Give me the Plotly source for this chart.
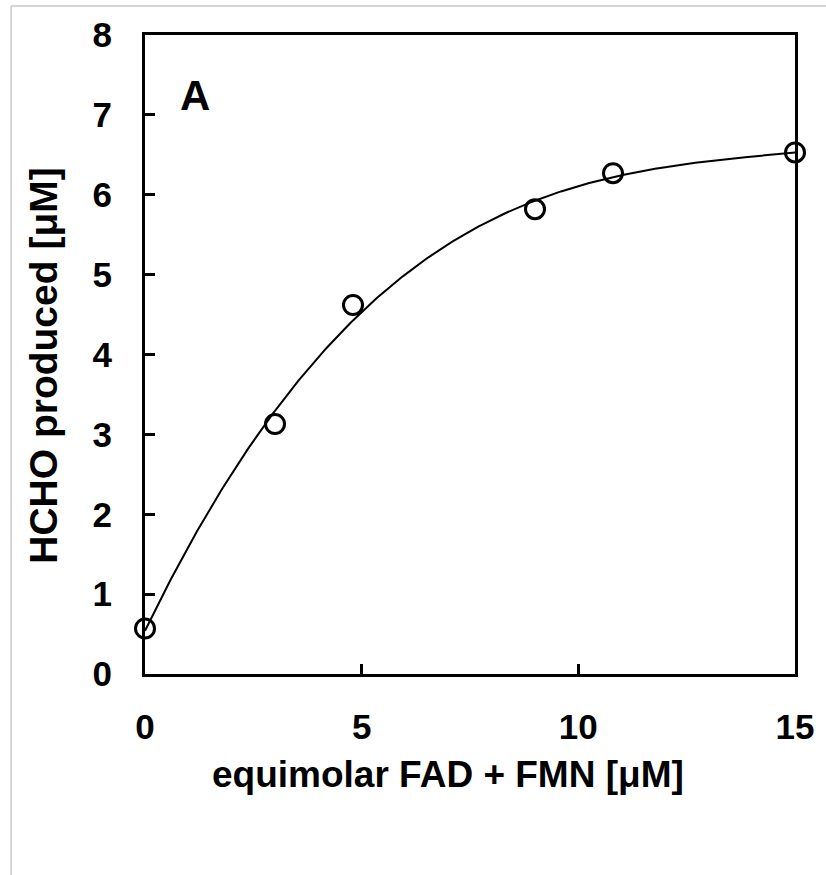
import numpy as np
import plotly.graph_objects as go

# Data
fad_fmn_uM = [0, 3, 4.8, 9, 10.8, 15]
hcho_uM = [0.57, 3.13, 4.62, 5.82, 6.27, 6.53]
x_ticks = [0, 5, 10, 15]
y_ticks = [0, 1, 2, 3, 4, 5, 6, 7, 8]

# 3rd-order polynomial trendline fitted to the data
coef = np.polyfit(fad_fmn_uM, hcho_uM, 3)
xf = np.linspace(0, 15, 301)
yf = np.polyval(coef, xf)

FONT = "Liberation Sans, Arial, sans-serif"

fig = go.Figure()
fig.add_trace(go.Scatter(x=xf, y=yf, mode="lines",
                         line=dict(color="black", width=2),
                         hoverinfo="skip", showlegend=False))
fig.add_trace(go.Scatter(x=fad_fmn_uM, y=hcho_uM, mode="markers",
                         marker=dict(symbol="circle-open", size=19,
                                     color="black", line=dict(width=3, color="black")),
                         cliponaxis=False, showlegend=False))

fig.update_layout(
    width=826, height=875,
    margin=dict(l=145, r=26, t=35, b=201),
    paper_bgcolor="white", plot_bgcolor="white",
    font=dict(family=FONT, color="black"),
    xaxis=dict(range=[0, 15], tickvals=x_ticks, ticks="inside", ticklen=10,
               tickwidth=2.5, tickcolor="black", showline=True, linewidth=3,
               linecolor="black", mirror=True, showgrid=False, zeroline=False,
               tickfont=dict(size=35, family=FONT, weight="bold"),
               ticklabelstandoff=20),
    yaxis=dict(range=[0, 8], tickvals=y_ticks, ticks="inside", ticklen=10,
               tickwidth=2.5, tickcolor="black", showline=True, linewidth=3,
               linecolor="black", mirror=True, showgrid=False, zeroline=False,
               tickfont=dict(size=35, family=FONT, weight="bold"),
               ticklabelstandoff=23),
    annotations=[
        dict(text="A", x=0.05, y=0.906, xref="paper", yref="paper",
             xanchor="left", yanchor="middle", showarrow=False,
             font=dict(size=42, family=FONT, weight="bold", color="black")),
        dict(text="equimolar FAD + FMN [μM]", x=0.4656, y=-0.158,
             xref="paper", yref="paper", xanchor="center", yanchor="middle",
             showarrow=False,
             font=dict(size=37, family=FONT, weight="bold", color="black")),
        dict(text="HCHO produced [μM]", x=-0.1557, y=0.4836, textangle=-90,
             xref="paper", yref="paper", xanchor="center", yanchor="middle",
             showarrow=False,
             font=dict(size=39, family=FONT, weight="bold", color="black")),
    ],
    shapes=[
        dict(type="line", xref="paper", yref="paper", x0=-0.206, x1=1.1,
             y0=1.0454, y1=1.0454, line=dict(color="#c8c8c8", width=1.5)),
        dict(type="line", xref="paper", yref="paper", x0=-0.206, x1=-0.206,
             y0=1.0454, y1=-0.4, line=dict(color="#c8c8c8", width=1.5)),
    ],
)

fig.write_html("out.html")
